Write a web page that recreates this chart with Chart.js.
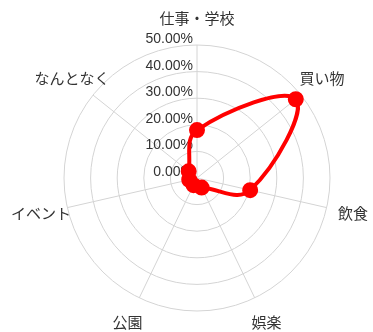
<!DOCTYPE html>
<html>
<head>
<meta charset="utf-8">
<script src="https://cdn.jsdelivr.net/npm/chart.js@4.4.1/dist/chart.umd.min.js"></script>
<style>
	body { margin: 0; background: #fff; }
	#wrap { width: 373px; height: 332px; }
</style>
</head>
<body>
<div id="wrap"><canvas id="myChart" width="373" height="332"></canvas></div>
<script>
"use strict";

// categories and shares (%)
const labels = ['仕事・学校', '買い物', '飲食', '娯楽', '公園', 'イベント', 'なんとなく'];
const values = [18, 47.5, 20.5, 4, 3, 3, 4];
const tickValues = [0, 10, 20, 30, 40, 50];

const gridColor = '#d4d4d4';
const textColor = '#333';

// tick labels sit left of the vertical axis, point labels are centred
// a bit outside the outer ring
const labelPlugin = {
	id: 'labelPlugin',
	beforeDatasetsDraw(chart) {
		const scale = chart.scales.r;
		const ctx = chart.ctx;
		ctx.save();
		ctx.fillStyle = textColor;

		ctx.font = '14px "Liberation Sans", Arial, sans-serif';
		ctx.textAlign = 'right';
		ctx.textBaseline = 'alphabetic';
		tickValues.forEach(v => {
			const y = scale.yCenter - scale.getDistanceFromCenterForValue(v);
			ctx.fillText(v.toFixed(2) + '%', scale.xCenter - 4, y - 2);
		});

		ctx.font = '15px "Noto Sans CJK JP", sans-serif';
		ctx.textAlign = 'center';
		ctx.textBaseline = 'middle';
		labels.forEach((l, i) => {
			const p = scale.getPointPosition(i, scale.drawingArea + 27);
			ctx.fillText(l, p.x, p.y);
		});
		ctx.restore();
	}
};

const data = {
	labels: labels,
	datasets: [
		{
			label: 'share',
			data: values,
			fill: false,
			borderColor: '#ff0000',
			borderWidth: 4,
			backgroundColor: '#ff0000',
			pointBackgroundColor: '#ff0000',
			pointBorderColor: '#ff0000',
			pointRadius: 6,
			tension: 0.4
		}
	]
};

const config = {
	type: 'radar',
	data: data,
	options: {
		responsive: false,
		animation: false,
		layout: {
			padding: { left: 64, right: 43, top: 45, bottom: 21 }
		},
		scales: {
			r: {
				min: tickValues[0],
				max: tickValues[tickValues.length - 1],
				ticks: { stepSize: 10, display: false },
				pointLabels: { display: false },
				grid: { circular: true, color: gridColor, lineWidth: 1 },
				angleLines: { color: gridColor, lineWidth: 1 }
			}
		},
		plugins: {
			legend: { display: false },
			tooltip: { enabled: false }
		}
	},
	plugins: [labelPlugin]
};

const myChart = new Chart(document.getElementById('myChart'), config);
</script>
</body>
</html>
